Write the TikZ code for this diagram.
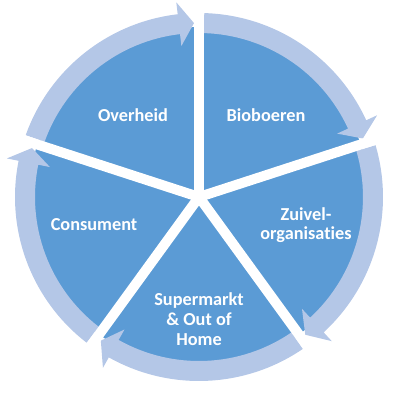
\documentclass[tikz,border=0pt]{standalone}
\usepackage{tkz-euclide}
\usepackage{fontspec}
\setmainfont{Carlito}[Ligatures=NoCommon]
\definecolor{diskblue}{RGB}{91,155,213}
\definecolor{ringblue}{RGB}{180,199,231}

\begin{document}
\begin{tikzpicture}[scale=0.025,
    sector/.style={text=white, align=center, font=\bfseries\fontsize{13}{14}\selectfont}]

    \useasboundingbox (-199,-203) rectangle (201,197);
    \tkzDefPoint(0,0){O}
    \tkzDefPoint(90:170){R}
    \tkzDefPoint(90:200){a}
    \tkzDefPoint(18:200){b}
    \tkzDefPoint(-54:200){c}
    \tkzDefPoint(-126:200){d}
    \tkzDefPoint(162:200){e}
    \tkzFillCircle[color=diskblue](O,R)
    % ring of arrows, clockwise
    \fill[ringblue] (88.35:184) arc[start angle=88.35, end angle=24.65, radius=184] -- (24.65:196) -- (19.65:174) -- (24.65:152) -- (24.65:164) arc[start angle=24.65, end angle=88.35, radius=164] -- cycle;
    \fill[ringblue] (16.35:184) arc[start angle=16.35, end angle=-47.35, radius=184] -- (-47.35:196) -- (-52.35:174) -- (-47.35:152) -- (-47.35:164) arc[start angle=-47.35, end angle=16.35, radius=164] -- cycle;
    \fill[ringblue] (-55.65:184) arc[start angle=-55.65, end angle=-119.35, radius=184] -- (-119.35:196) -- (-124.35:174) -- (-119.35:152) -- (-119.35:164) arc[start angle=-119.35, end angle=-55.65, radius=164] -- cycle;
    \fill[ringblue] (-127.65:184) arc[start angle=-127.65, end angle=-191.35, radius=184] -- (-191.35:196) -- (-196.35:174) -- (-191.35:152) -- (-191.35:164) arc[start angle=-191.35, end angle=-127.65, radius=164] -- cycle;
    \fill[ringblue] (160.35:184) arc[start angle=160.35, end angle=96.65, radius=184] -- (96.65:196) -- (91.65:174) -- (96.65:152) -- (96.65:164) arc[start angle=96.65, end angle=160.35, radius=164] -- cycle;
    % white gaps
    \tkzDrawSegments[color=white, line width=7.1pt](O,a O,b O,c O,d O,e)

    \node[sector] (overheid) at (-66,82) {Overheid};
    \node[sector] (bioboeren) at (67,82) {Bioboeren};
    \node[sector] (zuivel) at (107,-28) {Zuivel-\\organisaties};
    \node[sector] (supermarkt) at (0,-122) {Supermarkt\\\& Out of\\Home};
    \node[sector] (consument) at (-105,-28) {Consument};

\end{tikzpicture}
\end{document}
